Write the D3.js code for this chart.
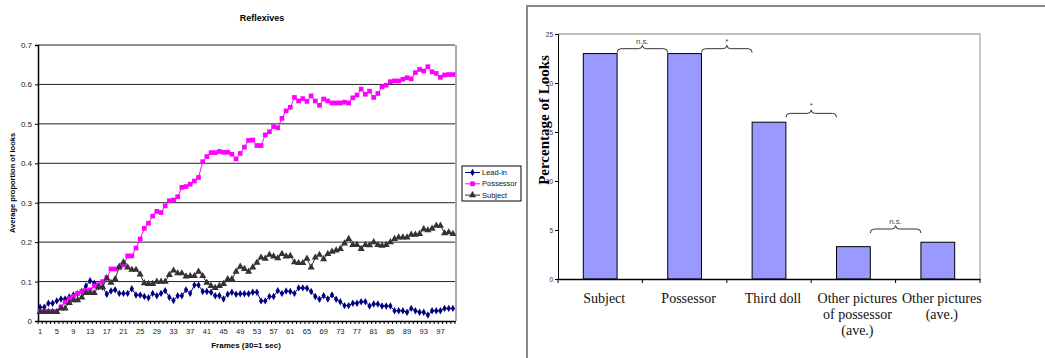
<!DOCTYPE html>
<html>
<head>
<meta charset="utf-8">
<script src="https://cdn.jsdelivr.net/npm/d3@7"></script>
<style>
body{margin:0;background:#fff;}
svg{display:block;}
</style>
</head>
<body>
<svg id="box" width="1045" height="358"></svg>
<script>
// ---- left chart data (proportion of looks per frame) ----
var frames = d3.range(1, 101);
var leadIn = [0.035,0.035,0.045,0.045,0.051,0.056,0.056,0.061,0.066,0.069,
  0.075,0.089,0.102,0.096,0.087,0.086,0.068,0.076,0.079,0.070,
  0.070,0.070,0.082,0.066,0.066,0.062,0.059,0.070,0.064,0.070,
  0.077,0.060,0.052,0.064,0.064,0.079,0.070,0.091,0.091,0.075,
  0.075,0.073,0.064,0.064,0.056,0.068,0.073,0.068,0.069,0.069,
  0.069,0.073,0.073,0.051,0.051,0.062,0.062,0.077,0.070,0.076,
  0.075,0.070,0.084,0.084,0.083,0.075,0.062,0.055,0.064,0.056,
  0.066,0.055,0.049,0.039,0.039,0.045,0.045,0.049,0.049,0.038,
  0.043,0.043,0.038,0.038,0.038,0.026,0.026,0.026,0.022,0.032,
  0.026,0.022,0.022,0.015,0.026,0.026,0.026,0.032,0.032,0.032];
var possessor = [0.024,0.024,0.024,0.024,0.024,0.036,0.048,0.057,0.062,0.070,
  0.075,0.077,0.079,0.089,0.092,0.100,0.110,0.132,0.132,0.135,
  0.142,0.165,0.165,0.185,0.208,0.235,0.248,0.266,0.278,0.275,
  0.292,0.305,0.307,0.315,0.339,0.341,0.347,0.355,0.364,0.404,
  0.417,0.427,0.427,0.430,0.428,0.428,0.423,0.411,0.425,0.441,
  0.458,0.459,0.445,0.445,0.472,0.480,0.493,0.490,0.514,0.533,
  0.542,0.567,0.558,0.564,0.557,0.571,0.558,0.547,0.563,0.558,
  0.553,0.553,0.553,0.555,0.553,0.566,0.573,0.588,0.575,0.583,
  0.567,0.577,0.594,0.598,0.607,0.609,0.609,0.613,0.617,0.614,
  0.630,0.638,0.634,0.645,0.632,0.628,0.618,0.624,0.625,0.625];
var subject = [0.023,0.023,0.023,0.023,0.023,0.032,0.032,0.046,0.053,0.053,
  0.060,0.071,0.071,0.071,0.086,0.086,0.108,0.097,0.106,0.138,
  0.149,0.136,0.130,0.130,0.118,0.096,0.094,0.094,0.100,0.100,
  0.100,0.117,0.128,0.121,0.121,0.113,0.114,0.114,0.125,0.114,
  0.097,0.089,0.084,0.089,0.094,0.106,0.106,0.125,0.138,0.132,
  0.125,0.136,0.148,0.161,0.158,0.168,0.164,0.159,0.170,0.164,
  0.165,0.149,0.147,0.147,0.158,0.136,0.161,0.168,0.157,0.170,
  0.176,0.179,0.183,0.197,0.208,0.193,0.193,0.183,0.193,0.192,
  0.200,0.193,0.191,0.193,0.200,0.208,0.212,0.212,0.212,0.219,
  0.219,0.221,0.233,0.230,0.234,0.242,0.242,0.223,0.225,0.221];
var seriesNames = ["Lead-in", "Possessor", "Subject"];
var lineTicks = [0, 0.1, 0.2, 0.3, 0.4, 0.5, 0.6, 0.7];
var frameLabels = frames.filter(function(f){ return (f - 1) % 4 == 0 && f < 100; });

// ---- right chart data ----
var barCats = ["Subject", "Possessor", "Third doll", "Other pictures|of possessor|(ave.)", "Other pictures|(ave.)"];
var barVals = [23, 23, 16, 3.3, 3.75];
var barTicks = [0, 5, 10, 15, 20, 25];
var sigLabels = ["n.s.", "*", "*", "n.s."];
var sigLevels = [23.5, 23.5, 16.9, 5.1];

var svg = d3.select("#box");
var sans = "Liberation Sans, Arial, sans-serif";
var serif = "Liberation Serif, Times New Roman, serif";

// =============== left: line chart ===============
var L = {left: 38, right: 455, top: 45, bottom: 321};
var x = d3.scaleBand().domain(frames).range([L.left, L.right]);
var y = d3.scaleLinear().domain([0, 0.7]).range([L.bottom, L.top]);
var g1 = svg.append("g");

// grid lines
g1.selectAll("line.grid")
  .data(lineTicks.slice(1))
  .enter().append("line")
  .attr("x1", L.left).attr("x2", L.right)
  .attr("y1", function(d){ return y(d); })
  .attr("y2", function(d){ return y(d); })
  .attr("stroke", "#222").attr("stroke-width", 1);
// right frame
g1.append("line")
  .attr("x1", L.right + 1).attr("x2", L.right + 1)
  .attr("y1", L.top).attr("y2", L.bottom)
  .attr("stroke", "#aaa").attr("stroke-width", 2);

var yAx = g1.append("g")
  .attr("transform", "translate(" + L.left + ",0)")
  .call(d3.axisLeft(y).tickValues(lineTicks).tickSize(3).tickPadding(3)
    .tickFormat(function(d){ return d == 0 ? "0" : d3.format(".1f")(d); }));
yAx.select(".domain").attr("stroke", "#000").attr("stroke-width", 1.5);
yAx.selectAll("text").attr("font-family", sans).attr("font-size", 8).attr("fill", "#222");

var xAx = g1.append("g")
  .attr("transform", "translate(0," + L.bottom + ")")
  .call(d3.axisBottom(x).tickValues(frameLabels).tickSize(0).tickPadding(8));
xAx.select(".domain").attr("stroke", "#000").attr("stroke-width", 1.5);
xAx.selectAll("text").attr("font-family", sans).attr("font-size", 7.5).attr("fill", "#222");
// small ticks at every category boundary
g1.selectAll("line.ftick")
  .data(frames.concat([101]))
  .enter().append("line")
  .attr("x1", function(d){ return d > 100 ? L.right : x(d); })
  .attr("x2", function(d){ return d > 100 ? L.right : x(d); })
  .attr("y1", L.bottom).attr("y2", L.bottom + 3)
  .attr("stroke", "#000").attr("stroke-width", 1);

var series = [
  {name: seriesNames[0], vals: leadIn, color: "#000080", sym: d3.symbolDiamond, size: 16},
  {name: seriesNames[1], vals: possessor, color: "#ff00ff", sym: d3.symbolSquare, size: 22},
  {name: seriesNames[2], vals: subject, color: "#333333", sym: d3.symbolTriangle, size: 22}
];
var line = d3.line()
  .x(function(d, i){ return x(frames[i]) + x.bandwidth() / 2; })
  .y(function(d){ return y(d); });

series.forEach(function(s){
  g1.append("path")
    .datum(s.vals)
    .attr("d", line)
    .attr("fill", "none")
    .attr("stroke", s.color)
    .attr("stroke-width", 1);
  g1.selectAll(null)
    .data(s.vals)
    .enter().append("path")
    .attr("d", d3.symbol().type(s.sym).size(s.size))
    .attr("transform", function(d, i){
      return "translate(" + (x(frames[i]) + x.bandwidth() / 2) + "," + y(d) + ")";
    })
    .attr("fill", s.color);
});

g1.append("text")
  .attr("x", 262).attr("y", 21)
  .attr("text-anchor", "middle")
  .attr("font-family", sans).attr("font-size", 9).attr("font-weight", "bold")
  .text("Reflexives");
g1.append("text")
  .attr("transform", "translate(15,183) rotate(-90)")
  .attr("text-anchor", "middle")
  .attr("font-family", sans).attr("font-size", 7.5).attr("font-weight", "bold")
  .text("Average proportion of looks");
g1.append("text")
  .attr("x", 246).attr("y", 348)
  .attr("text-anchor", "middle")
  .attr("font-family", sans).attr("font-size", 8).attr("font-weight", "bold")
  .text("Frames (30=1 sec)");

// legend
var lg = g1.append("g").attr("transform", "translate(462,166)");
lg.append("rect")
  .attr("width", 59).attr("height", 35)
  .attr("fill", "#fff").attr("stroke", "#000").attr("stroke-width", 1);
var li = lg.selectAll("g.item")
  .data(series)
  .enter().append("g")
  .attr("transform", function(d, i){ return "translate(0," + (6.5 + i * 11.3) + ")"; });
li.append("line")
  .attr("x1", 3).attr("x2", 18)
  .attr("stroke", function(d){ return d.color; }).attr("stroke-width", 1);
li.append("path")
  .attr("d", function(d){ return d3.symbol().type(d.sym).size(d.size)(); })
  .attr("transform", "translate(10.5,0)")
  .attr("fill", function(d){ return d.color; });
li.append("text")
  .attr("x", 20).attr("dy", "0.35em")
  .attr("font-family", sans).attr("font-size", 7.5).attr("fill", "#111")
  .text(function(d){ return d.name; });

// =============== right: bar chart ===============
var R = {left: 558, right: 980, top: 34, bottom: 279};
var xb = d3.scaleBand().domain(barCats).range([R.left, R.right]).paddingInner(0.6).paddingOuter(0.3);
var yb = d3.scaleLinear().domain([0, 25]).range([R.bottom, R.top]);
var g2 = svg.append("g");

// outer frame
g2.append("path")
  .attr("d", "M527,358V6H1045")
  .attr("fill", "none").attr("stroke", "#888").attr("stroke-width", 2);
// plot area border
g2.append("path")
  .attr("d", "M" + R.left + "," + R.top + "H" + R.right + "V" + R.bottom)
  .attr("fill", "none").attr("stroke", "#aaa").attr("stroke-width", 1.3);

g2.selectAll("rect.bar")
  .data(barVals)
  .enter().append("rect")
  .attr("x", function(d, i){ return xb(barCats[i]); })
  .attr("y", function(d){ return yb(d); })
  .attr("width", xb.bandwidth())
  .attr("height", function(d){ return yb(0) - yb(d); })
  .attr("fill", "#9999ff")
  .attr("stroke", "#000").attr("stroke-width", 1);

var yAx2 = g2.append("g")
  .attr("transform", "translate(" + R.left + ",0)")
  .call(d3.axisLeft(yb).tickValues(barTicks).tickSize(3).tickPadding(2));
yAx2.select(".domain").attr("stroke", "#000");
yAx2.selectAll("text").attr("font-family", sans).attr("font-size", 6.5).attr("fill", "#333");

var step = (R.right - R.left) / barCats.length;
var xAx2 = g2.append("g")
  .attr("transform", "translate(0," + R.bottom + ")")
  .call(d3.axisBottom(xb).tickSize(0).tickFormat(""));
xAx2.select(".domain").attr("stroke", "#000").attr("stroke-width", 1.3);
g2.selectAll("line.ctick")
  .data(d3.range(barCats.length + 1))
  .enter().append("line")
  .attr("x1", function(d){ return R.left + d * step; })
  .attr("x2", function(d){ return R.left + d * step; })
  .attr("y1", R.bottom).attr("y2", R.bottom + 4)
  .attr("stroke", "#000");

var labs = g2.selectAll("text.cat")
  .data(barCats)
  .enter().append("text")
  .attr("text-anchor", "middle")
  .attr("font-family", serif).attr("font-size", 14).attr("fill", "#111")
  .attr("transform", function(d){ return "translate(" + (xb(d) + xb.bandwidth() / 2 + 4) + ",303)"; });
labs.selectAll("tspan")
  .data(function(d){ return d.split("|"); })
  .enter().append("tspan")
  .attr("x", 0)
  .attr("dy", function(d, i){ return i == 0 ? 0 : 16; })
  .text(function(d){ return d; });

g2.append("text")
  .attr("transform", "translate(549,120) rotate(-90)")
  .attr("text-anchor", "middle")
  .attr("font-family", serif).attr("font-size", 15).attr("font-weight", "bold")
  .text("Percentage of Looks");

// significance braces between neighbouring bars
sigLabels.forEach(function(lab, i){
  var x1 = xb(barCats[i]) + xb.bandwidth();
  var x2 = xb(barCats[i + 1]);
  var m = (x1 + x2) / 2;
  var yy = yb(sigLevels[i]);
  var p = d3.path();
  p.moveTo(x1, yy + 4);
  p.quadraticCurveTo(x1, yy, x1 + 4, yy);
  p.lineTo(m - 4, yy);
  p.quadraticCurveTo(m, yy, m, yy - 3.5);
  p.quadraticCurveTo(m, yy, m + 4, yy);
  p.lineTo(x2 - 4, yy);
  p.quadraticCurveTo(x2, yy, x2, yy + 4);
  g2.append("path")
    .attr("d", p.toString())
    .attr("fill", "none").attr("stroke", "#333").attr("stroke-width", 1);
  g2.append("text")
    .attr("x", m).attr("y", yy - 5)
    .attr("text-anchor", "middle")
    .attr("font-family", sans).attr("font-size", 8).attr("fill", "#444")
    .text(lab);
});
</script>
</body>
</html>
